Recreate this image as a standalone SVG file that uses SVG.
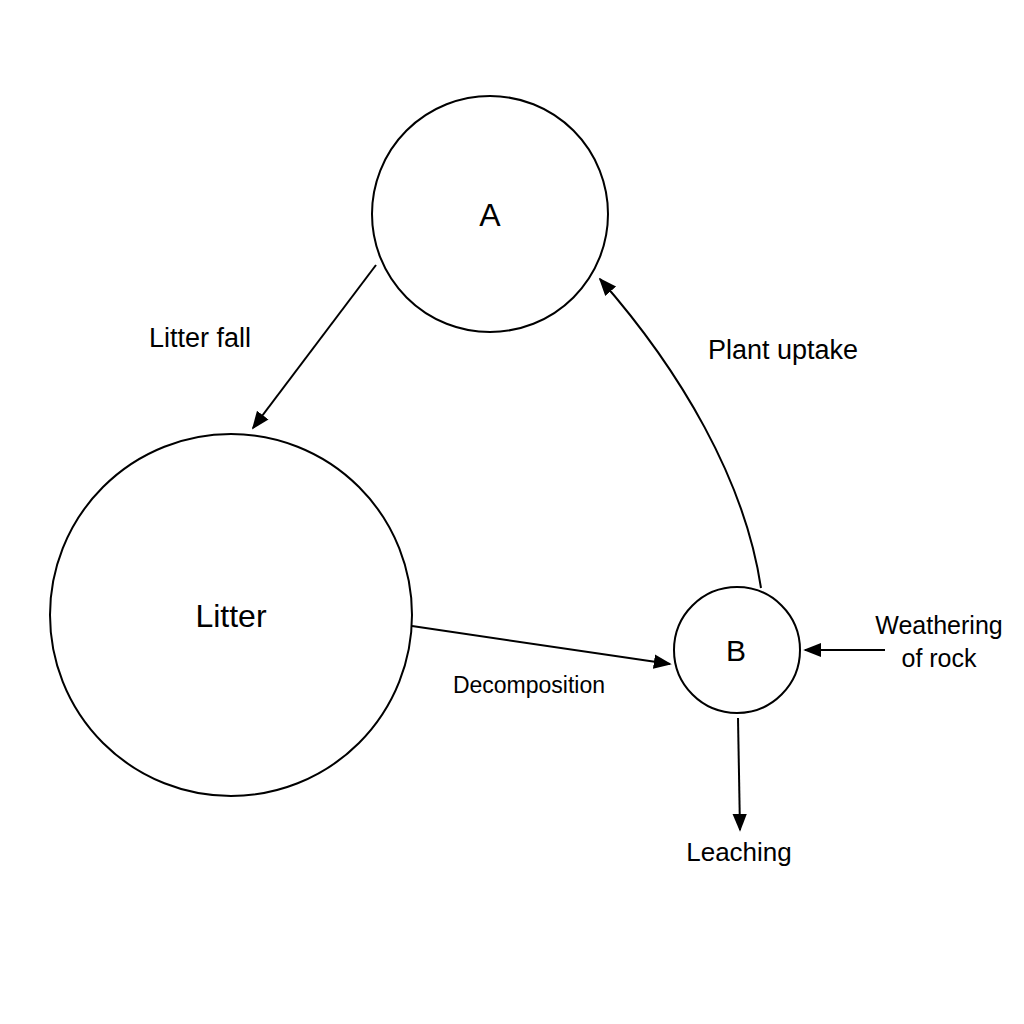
<svg xmlns="http://www.w3.org/2000/svg" width="1024" height="1024" viewBox="0 0 1024 1024">
<style>
.n{fill:#fff;stroke:#000;stroke-width:2}
.c{fill:none;stroke:#000;stroke-width:2;marker-end:url(#ah2)}
text{font-family:"Liberation Sans",Arial,sans-serif;fill:#000}
</style>
<defs>
<marker id="ah2" viewBox="0 0 10 10" refX="9" refY="5" markerWidth="18" markerHeight="18" markerUnits="userSpaceOnUse" orient="auto"><path d="M0,1L10,5L0,9z" fill="#000"/></marker></defs>
<rect width="1024" height="1024" fill="#fff"/>
<g id="connectors">
<path class="c" d="M376,265L253,428"/>
<path class="c" d="M761,588C745,480 680,370 600,279"/>
<path class="c" d="M412,626L670,664"/>
<path class="c" d="M885,650L805,650"/>
<path class="c" d="M738,718L740,830"/>
</g>
<g id="A"><circle class="n" cx="490" cy="214" r="118"/><text x="490" y="226" font-size="32" text-anchor="middle">A</text></g>
<g id="Litter"><circle class="n" cx="231" cy="615" r="181"/><text x="231" y="627" font-size="32" text-anchor="middle">Litter</text></g>
<g id="B"><circle class="n" cx="737" cy="650" r="63"/><text x="736" y="661" font-size="30" text-anchor="middle">B</text></g>
<g id="labels">
<text x="200" y="347" text-anchor="middle" font-size="27">Litter fall</text>
<text x="783" y="359" text-anchor="middle" font-size="27">Plant uptake</text>
<text x="529" y="693" text-anchor="middle" font-size="23">Decomposition</text>
<text x="939" y="634" text-anchor="middle" font-size="25">Weathering</text>
<text x="939" y="667" text-anchor="middle" font-size="25">of rock</text>
<text x="739" y="861" text-anchor="middle" font-size="26">Leaching</text>
</g>
</svg>
